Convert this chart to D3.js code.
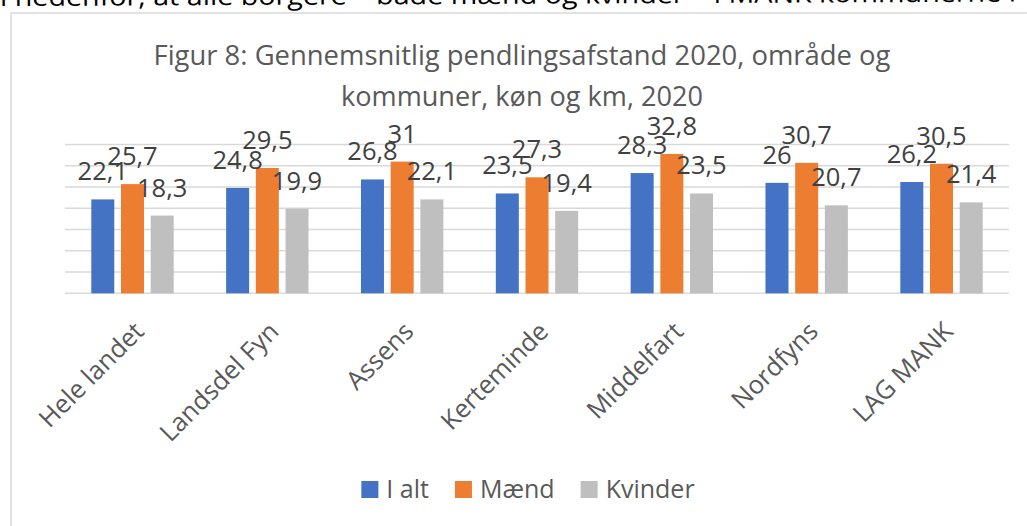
<!DOCTYPE html>
<html><head><meta charset="utf-8">
<script src="https://cdn.jsdelivr.net/npm/d3@7"></script>
<style>
html,body{margin:0;padding:0;background:#fff;}
svg{display:block;}
text{font-family:"Open Sans",sans-serif;}
</style></head>
<body>
<script>
const topLine = "i nedenfor, at alle borgere – både mænd og kvinder – i MANK kommunerne i";
const titleLines = ["Figur 8: Gennemsnitlig pendlingsafstand 2020, område og", "kommuner, køn og km, 2020"];
const categories = ["Hele landet","Landsdel Fyn","Assens","Kerteminde","Middelfart","Nordfyns","LAG MANK"];
const seriesNames = ["I alt","Mænd","Kvinder"];
const iAlt    = [22.1, 24.8, 26.8, 23.5, 28.3, 26.0, 26.2];
const maend   = [25.7, 29.5, 31.0, 27.3, 32.8, 30.7, 30.5];
const kvinder = [18.3, 19.9, 22.1, 19.4, 23.5, 20.7, 21.4];
const yTicks  = [0, 5, 10, 15, 20, 25, 30, 35];

const colors = ["#4472C4", "#ED7D31", "#BFBFBF"];
const seriesValues = [iAlt, maend, kvinder];

const W = 1027, H = 526;
const svg = d3.select("body").append("svg").attr("width", W).attr("height", H);
svg.append("rect").attr("width", W).attr("height", H).attr("fill", "#fff");

function fit(sel, w){ sel.attr("textLength", w).attr("lengthAdjust", "spacingAndGlyphs"); }

// cut-off document text above the chart
svg.append("text").attr("x", 0).attr("y", 6).attr("font-size", 25).attr("fill", "#000")
  .attr("transform", "rotate(-0.25 0 6)")
  .text(topLine).call(fit, 1016);

// chart border (cropped at right/bottom)
svg.append("rect").attr("x", 11).attr("y", 13).attr("width", 1100).attr("height", 600)
  .attr("fill", "#fff").attr("stroke", "#D9D9D9").attr("stroke-width", 1.5);

// title
const tW = [737, 362];
titleLines.forEach((t, i) => {
  svg.append("text").attr("x", 522).attr("y", 65 + i * 41).attr("text-anchor", "middle")
    .attr("font-size", 27.5).attr("fill", "#595959").text(t).call(fit, tW[i]);
});

const plotL = 65, plotR = 1009, plotB = 293.3, plotT = 144.6;
const y = d3.scaleLinear().domain([0, 35]).range([plotB, plotT]);
const x0 = d3.scaleBand().domain(categories).range([plotL, plotR]).paddingInner(0.389).paddingOuter(0.195);
const x1 = d3.scaleBand().domain(seriesNames).range([0, x0.bandwidth()]).paddingInner(0.2256);

// gridlines
svg.append("g").selectAll("line").data(yTicks).join("line")
  .attr("x1", plotL).attr("x2", plotR)
  .attr("y1", d => y(d)).attr("y2", d => y(d))
  .attr("stroke", "#D9D9D9").attr("stroke-width", 1.5);

// bars
const rows = categories.map((c, i) => ({cat: c, vals: seriesNames.map((s, j) => ({s, j, v: seriesValues[j][i]}))}));
const g = svg.append("g").selectAll("g").data(rows).join("g")
  .attr("transform", d => `translate(${x0(d.cat)},0)`);
g.selectAll("rect").data(d => d.vals).join("rect")
  .attr("x", d => x1(d.s)).attr("width", x1.bandwidth())
  .attr("y", d => y(d.v)).attr("height", d => y(0) - y(d.v))
  .attr("fill", d => colors[d.j]);
g.selectAll("text.lbl").data(d => d.vals).join("text").attr("class", "lbl")
  .attr("x", d => x1(d.s) + x1.bandwidth() / 2).attr("y", d => y(d.v) - 19)
  .attr("text-anchor", "middle").attr("font-size", 25.5).attr("fill", "#404040")
  .text(d => String(d.v).replace(".", ","));

// category axis labels
svg.append("g").selectAll("text").data(categories).join("text")
  .attr("text-anchor", "end").attr("font-size", 25.5).attr("fill", "#595959")
  .attr("transform", d => `translate(${x0(d) + x0.bandwidth() / 2 + 13},333) rotate(-45)`)
  .text(d => d);

// legend
const lg = svg.append("g");
let cx = 0;
seriesNames.forEach((s, i) => {
  const it = lg.append("g");
  it.append("rect").attr("x", 0).attr("y", 481).attr("width", 17).attr("height", 17).attr("fill", colors[i]);
  const t = it.append("text").attr("x", 25).attr("y", 497.5).attr("font-size", 25).attr("fill", "#595959").text(s);
  const w = 25 + t.node().getComputedTextLength();
  it.attr("transform", `translate(${cx},0)`);
  cx += w + 26;
});
const totalW = cx - 26;
lg.attr("transform", `translate(${528 - totalW / 2},0)`);
</script>
</body></html>
